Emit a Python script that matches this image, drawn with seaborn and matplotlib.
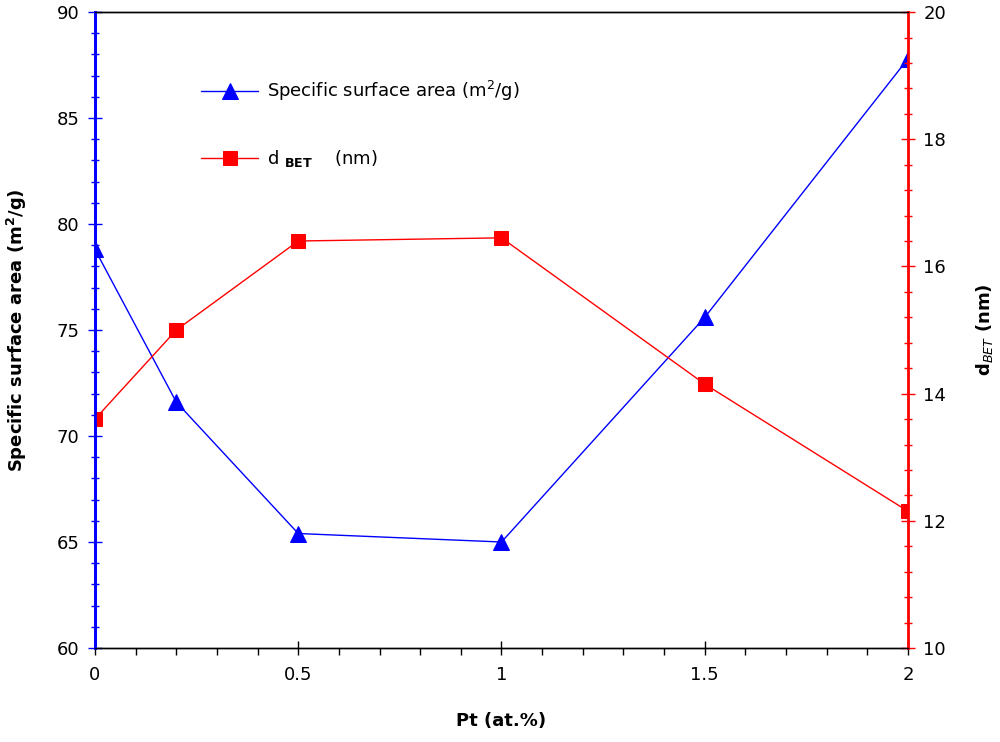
import pandas as pd
import seaborn as sns
import numpy as np
import matplotlib.pyplot as plt
import matplotlib as mpl
from matplotlib.ticker import MultipleLocator

# Data
pt = [0, 0.2, 0.5, 1.0, 1.5, 2.0]
ssa = [78.8, 71.6, 65.4, 65.0, 75.6, 87.8]      # m2/g
d_bet = [13.6, 15.0, 16.4, 16.45, 14.15, 12.15]  # nm

sns.set_style("ticks")
plt.rcParams['font.family'] = ['DejaVu Sans']
plt.rcParams['mathtext.default'] = 'regular'
plt.rcParams['text.color'] = 'black'
plt.rcParams['axes.labelcolor'] = 'black'

df = pd.DataFrame({'Pt': pt, 'SSA': ssa, 'dBET': d_bet})

fig = plt.figure(figsize=(10, 7.42), dpi=100)
ax = fig.add_axes([0.095, 0.1267, 0.813, 0.857])
ax2 = ax.twinx()

sns.lineplot(data=df, x='Pt', y='SSA', ax=ax, color='#0000ff', marker='^',
             markersize=11, markeredgecolor='#0000ff', linewidth=1,
             label='Specific surface area (m$^2$/g)', legend=False)
sns.lineplot(data=df, x='Pt', y='dBET', ax=ax2, color='#ff0000', marker='s',
             markersize=10, markeredgecolor='#ff0000', linewidth=1,
             label=r'd $_{\mathit{\mathbf{BET}}}$    (nm)', legend=False)

ax.set_xlim(0, 2)
ax.set_ylim(60, 90)
ax2.set_ylim(10, 20)

ax.xaxis.set_major_locator(MultipleLocator(0.5))
ax.xaxis.set_minor_locator(MultipleLocator(0.1))
ax.yaxis.set_major_locator(MultipleLocator(5))
ax.yaxis.set_minor_locator(MultipleLocator(1))
ax2.yaxis.set_major_locator(MultipleLocator(2))
ax2.yaxis.set_minor_locator(MultipleLocator(0.4))
ax.xaxis.set_major_formatter(mpl.ticker.FuncFormatter(lambda v, p: f'{v:g}'))

ax.tick_params(axis='x', which='major', direction='inout', length=10, width=1,
               colors='black', labelsize=13, pad=8)
ax.tick_params(axis='x', which='minor', direction='out', length=5, width=1, colors='black')
ax.tick_params(axis='y', which='major', direction='inout', length=10, width=1,
               colors='#0000ff', labelcolor='black', labelsize=13, pad=6)
ax.tick_params(axis='y', which='minor', direction='inout', length=6, width=1, colors='#0000ff')
ax2.tick_params(axis='y', which='major', direction='inout', length=10, width=1,
                colors='#ff0000', labelcolor='black', labelsize=13, pad=6)
ax2.tick_params(axis='y', which='minor', direction='inout', length=6, width=1, colors='#ff0000')

for a in (ax, ax2):
    a.spines['top'].set_color('black')
    a.spines['bottom'].set_color('black')
    a.spines['top'].set_linewidth(1)
    a.spines['bottom'].set_linewidth(1)
ax2.spines['left'].set_color('#0000ff')
ax2.spines['left'].set_linewidth(2)
ax2.spines['right'].set_color('#ff0000')
ax2.spines['right'].set_linewidth(2)
ax.spines['left'].set_color('#0000ff')
ax.spines['left'].set_linewidth(2)
ax.spines['right'].set_visible(False)

ax.set_xlabel('Pt (at.%)', fontsize=13, fontweight='bold', labelpad=20)
ax.set_ylabel('Specific surface area (m$^2$/g)', fontsize=13, fontweight='bold', labelpad=20)
ax2.set_ylabel(r'd$_{\mathit{BET}}$ (nm)', fontsize=13, fontweight='bold',
               rotation=90, labelpad=20)

h1, l1 = ax.get_legend_handles_labels()
h2, l2 = ax2.get_legend_handles_labels()
leg = ax2.legend(h1 + h2, l1 + l2, loc='upper left', bbox_to_anchor=(0.11, 0.92),
                 frameon=False, fontsize=13, handlelength=3.2, labelspacing=2.5,
                 handletextpad=0.5)

plt.savefig('out.png', dpi=100)
